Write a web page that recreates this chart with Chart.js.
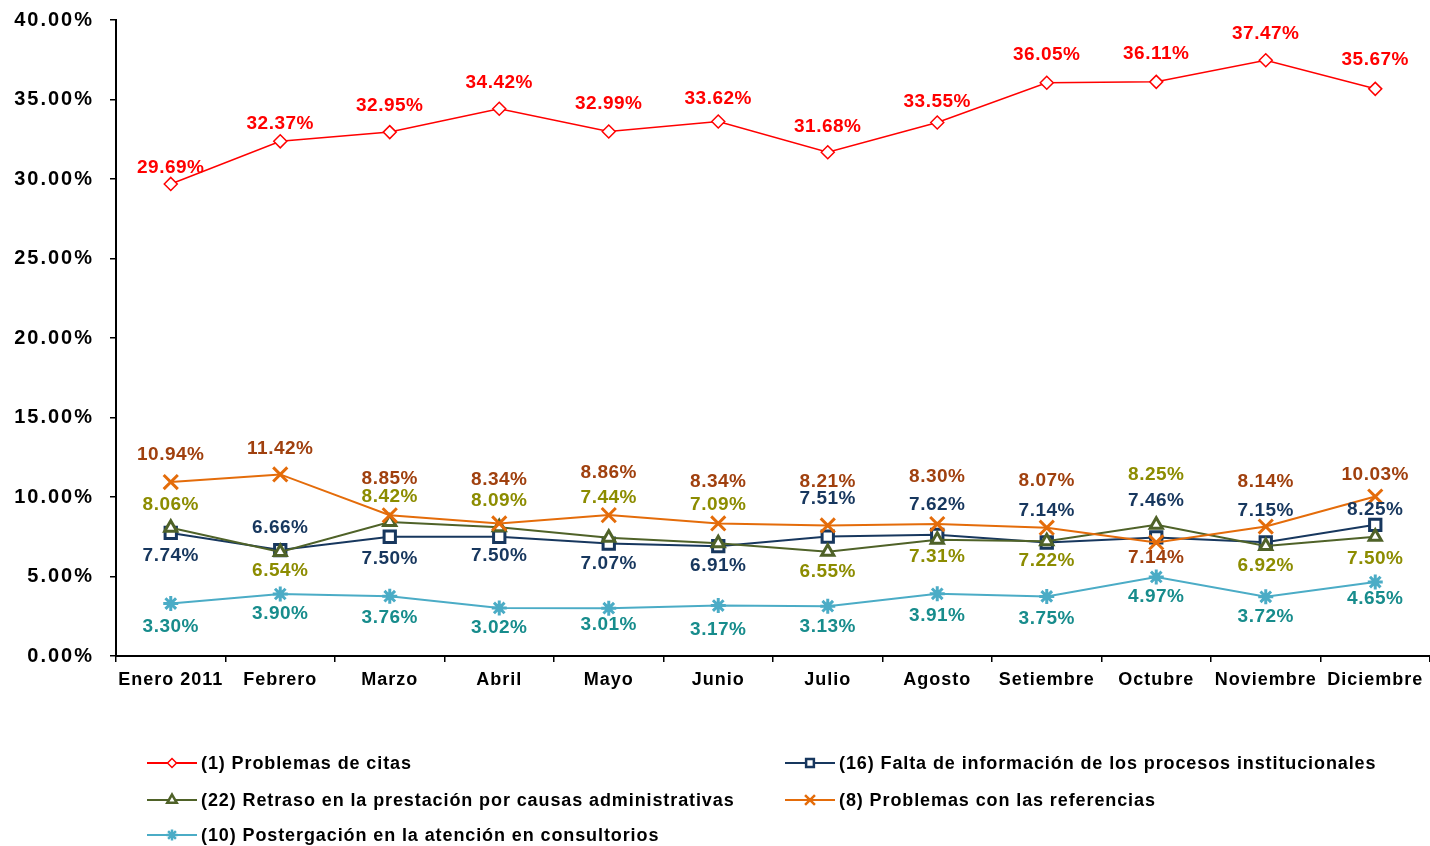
<!DOCTYPE html>
<html><head><meta charset="utf-8">
<script src="https://cdn.jsdelivr.net/npm/chart.js@4/dist/chart.umd.min.js"></script>
<style>html,body{margin:0;padding:0;background:#fff;overflow:hidden}#wrap{width:1430px;height:846px}</style>
</head><body><div id="wrap"><canvas id="c" width="1430" height="846"></canvas></div>
<script>
// ---- DATA ----
const categories = ['Enero 2011','Febrero','Marzo','Abril','Mayo','Junio','Julio','Agosto','Setiembre','Octubre','Noviembre','Diciembre'];
const seriesNames = [
  '(1) Problemas de citas',
  '(16) Falta de información de los procesos institucionales',
  '(22) Retraso en la prestación por causas administrativas',
  '(8) Problemas con las referencias',
  '(10) Postergación en la atención en consultorios'
];
const problemasCitas   = [29.69,32.37,32.95,34.42,32.99,33.62,31.68,33.55,36.05,36.11,37.47,35.67];
const faltaInformacion = [7.74,6.66,7.50,7.50,7.07,6.91,7.51,7.62,7.14,7.46,7.15,8.25];
const retrasoPrestacion= [8.06,6.54,8.42,8.09,7.44,7.09,6.55,7.31,7.22,8.25,6.92,7.50];
const problemasRefer   = [10.94,11.42,8.85,8.34,8.86,8.34,8.21,8.30,8.07,7.14,8.14,10.03];
const postergacion     = [3.30,3.90,3.76,3.02,3.01,3.17,3.13,3.91,3.75,4.97,3.72,4.65];
const yTickValues = [0,5,10,15,20,25,30,35,40];

// ---- STYLE (label offsets in px relative to each point) ----
const labelOffsets = [
  [-16,-18,-26,-26,-28,-23,-26,-21,-28,-28,-26,-29],
  [23,-22,22,19,20,20,-38,-30,-32,-37,-32,-15],
  [-23,19,-25,-27,-40,-39,20,17,20,-50,20,22],
  [-27,-26,-37,-44,-42,-42,-44,-47,-47,15,-45,-22],
  [23,20,22,20,17,24,21,22,22,20,20,17]
];
const labelColors = ['#FF0000','#17375E','#8C8C00','#A0400E','#178C8C'];
const FONT = '"Liberation Sans", Arial, sans-serif';

const styles = [
  {color:'#FF0000', pointStyle:'rectRot', radius:6.5, pw:1.5, lw:1.5, fill:'#FFFFFF', order:4, lr:4.5},
  {color:'#17375E', pointStyle:'rect', radius:8, pw:3, lw:2, fill:'#FFFFFF', order:3, lr:5.5},
  {color:'#4F6228', pointStyle:'triangle', radius:7, pw:3, lw:2, fill:'#FFFFFF', order:2, lr:5.5},
  {color:'#E46C0A', pointStyle:'crossRot', radius:10, pw:3, lw:2, fill:'#E46C0A', order:1, lr:7},
  {color:'#4BACC6', pointStyle:'star', radius:7.5, pw:3, lw:2, fill:'#4BACC6', order:0, lr:5.5}
];
const seriesData = [problemasCitas, faltaInformacion, retrasoPrestacion, problemasRefer, postergacion];

const datasets = seriesData.map((d,i)=>({
  label: seriesNames[i],
  data: d,
  order: styles[i].order,
  borderColor: styles[i].color,
  backgroundColor: styles[i].fill,
  borderWidth: styles[i].lw,
  pointStyle: styles[i].pointStyle,
  pointRadius: styles[i].radius,
  pointHoverRadius: styles[i].radius,
  pointBorderWidth: styles[i].pw,
  pointBorderColor: styles[i].color,
  pointBackgroundColor: styles[i].fill,
  tension: 0
}));

const spacingPlugin = {
  id:'letterSpacing',
  beforeDraw(chart){
    const ctx = chart.ctx;
    [['x','1px'],['y','2px']].forEach(([id,sp])=>{
      const sc = chart.scales[id];
      if (!sc || sc._wrapped) return;
      const orig = sc.drawLabels;
      sc.drawLabels = function(ca){
        ctx.save(); ctx.letterSpacing = sp; orig.call(this, ca); ctx.restore();
      };
      sc._wrapped = true;
    });
  }
};

const dataLabelPlugin = {
  id:'dataLabels',
  afterDatasetsDraw(chart){
    const ctx = chart.ctx;
    ctx.save();
    ctx.letterSpacing = '0.5px';
    ctx.font = 'bold 19px ' + FONT;
    ctx.textAlign = 'center';
    ctx.textBaseline = 'middle';
    chart.data.datasets.forEach((ds, i)=>{
      const meta = chart.getDatasetMeta(i);
      ctx.fillStyle = labelColors[i];
      meta.data.forEach((el, j)=>{
        const txt = ds.data[j].toFixed(2) + '%';
        ctx.fillText(txt, el.x, el.y + labelOffsets[i][j]);
      });
    });
    ctx.restore();
  }
};

const legendPos = [[147,763],[785,763],[147,800],[785,800],[147,835]];
const legendPlugin = {
  id:'customLegend',
  afterDraw(chart){
    const ctx = chart.ctx;
    ctx.save();
    chart.data.datasets.forEach((ds,i)=>{
      const [x,y] = legendPos[i];
      const s = styles[i];
      ctx.strokeStyle = s.color;
      ctx.lineWidth = 2;
      ctx.beginPath(); ctx.moveTo(x, y); ctx.lineTo(x+50, y); ctx.stroke();
      ctx.fillStyle = s.fill;
      ctx.strokeStyle = s.color;
      const bw = s.pw > 2 ? 2.5 : 1.5;
      ctx.lineWidth = bw;
      Chart.helpers.drawPoint(ctx, {pointStyle:s.pointStyle, rotation:0, borderWidth:bw, radius:s.lr}, x+25, y);
      ctx.fillStyle = '#000';
      ctx.letterSpacing = '0.9px';
      ctx.font = 'bold 18px ' + FONT;
      ctx.textAlign = 'left';
      ctx.textBaseline = 'middle';
      ctx.fillText(ds.label, x+54, y+1);
      ctx.letterSpacing = '0px';
    });
    ctx.restore();
  }
};

new Chart(document.getElementById('c'), {
  type:'line',
  data:{ labels: categories, datasets },
  options:{
    responsive:false,
    animation:false,
    devicePixelRatio:1,
    layout:{ autoPadding:false, padding:{left:0,right:0,top:20,bottom:150} },
    plugins:{ legend:{display:false}, tooltip:{enabled:false} },
    scales:{
      x:{
        type:'category',
        offset:true,
        grid:{offset:true, drawOnChartArea:false, drawTicks:true, tickLength:6, color:'#000', lineWidth:1.5},
        border:{display:true, color:'#000', width:2},
        ticks:{color:'#000', font:{family:FONT, size:18, weight:'bold'}, padding:7, maxRotation:0, autoSkip:false},
        afterFit(scale){ scale.height = 40; scale.paddingLeft = 0; scale.paddingRight = 0; }
      },
      y:{
        min:0, max:40,
        afterBuildTicks(scale){ scale.ticks = yTickValues.map(v=>({value:v})); },
        grid:{drawOnChartArea:false, drawTicks:true, tickLength:6, color:'#000', lineWidth:1.5},
        border:{display:true, color:'#000', width:2},
        ticks:{color:'#000', font:{family:FONT, size:20, weight:'bold'}, padding:16, callback:v=>Number(v).toFixed(2)+'%'},
        afterFit(scale){ scale.width = 116; scale.paddingTop = 0; scale.paddingBottom = 0; }
      }
    }
  },
  plugins:[spacingPlugin, dataLabelPlugin, legendPlugin]
});
</script>
</body></html>
